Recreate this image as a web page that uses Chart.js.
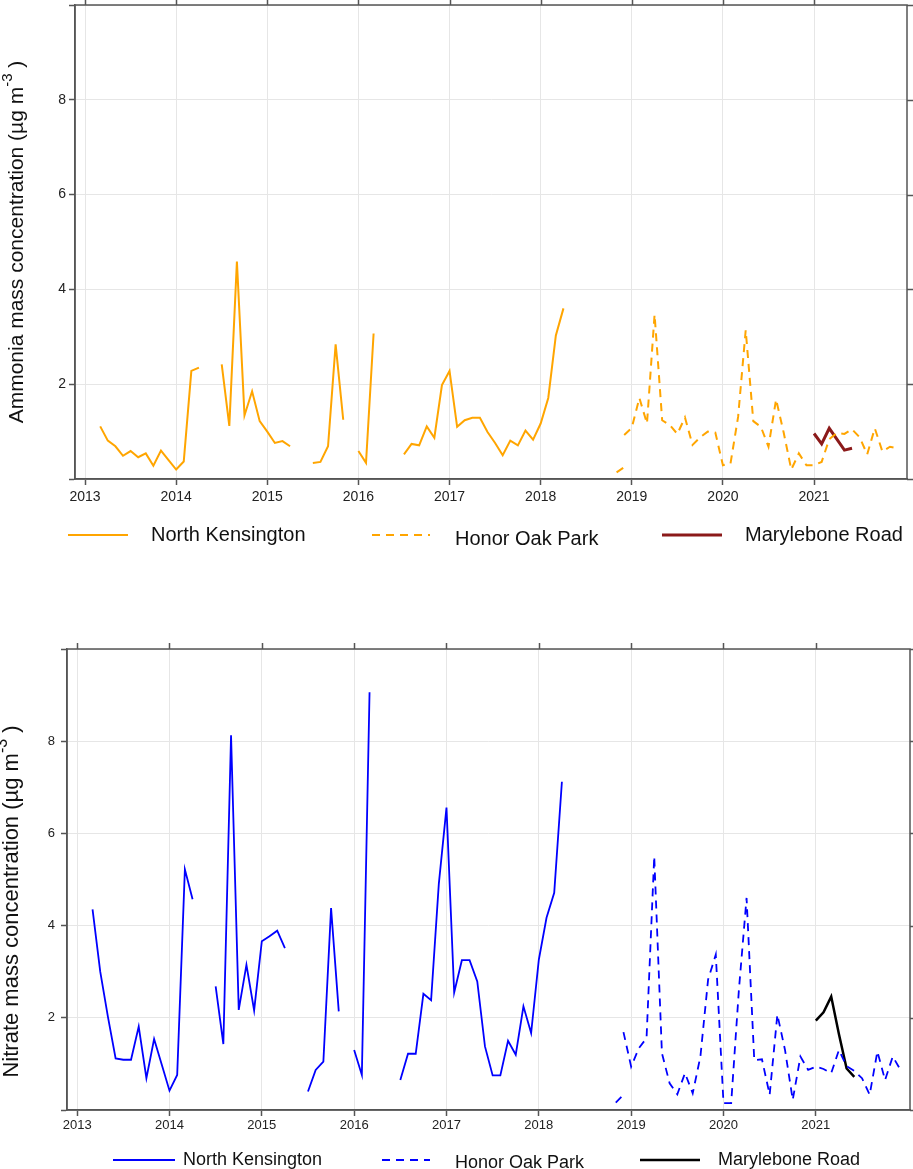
<!DOCTYPE html>
<html>
<head>
<meta charset="utf-8">
<script src="https://cdn.jsdelivr.net/npm/chart.js@4.4.0/dist/chart.umd.min.js"></script>
<style>
  html, body { margin: 0; padding: 0; background: #ffffff; }
  #wrap { position: relative; width: 913px; height: 1169px; overflow: hidden; }
  canvas { position: absolute; left: 0; }
  #ammonia { top: 0; }
  #nitrate { top: 590px; }
</style>
</head>
<body>
<div id="wrap">
  <canvas id="ammonia" width="913" height="590"></canvas>
  <canvas id="nitrate" width="913" height="579"></canvas>
</div>
<script>
// ---- monthly mean concentrations (µg m-3) ----
function monthRange(a, b) {
  const out = [];
  let [y, m] = a.split('-').map(Number);
  const [by, bm] = b.split('-').map(Number);
  while (y < by || (y === by && m <= bm)) {
    out.push(y + '-' + String(m).padStart(2, '0'));
    m++; if (m > 12) { m = 1; y++; }
  }
  return out;
}

const siteNames = ['North Kensington', 'Honor Oak Park', 'Marylebone Road'];
const yearTicks = [2013, 2014, 2015, 2016, 2017, 2018, 2019, 2020, 2021];
const yTickValues = [0, 2, 4, 6, 8, 10];
const yTickLabels = ['', '2', '4', '6', '8', ''];

// North Kensington: Mar 2013 – Apr 2018 (null = no data that month)
const nkMonths = monthRange('2013-03', '2018-04');
const nkAmmonia = [
  1.11, 0.81, 0.69, 0.49, 0.59, 0.46, 0.54, 0.28, 0.60, 0.40,
  0.20, 0.37, 2.28, 2.35, null, null, 2.42, 1.12, 4.59, 1.34, 1.85, 1.22,
  1.00, 0.76, 0.80, 0.69, null, null, 0.34, 0.36, 0.69, 2.84, 1.25, null,
  0.59, 0.34, 3.07, null, null, null, 0.52, 0.74, 0.71, 1.11, 0.87, 1.98,
  2.28, 1.10, 1.24, 1.29, 1.29, 0.99, 0.76, 0.50, 0.81, 0.71, 1.02, 0.83,
  1.17, 1.71, 3.03, 3.60
];
const nkNitrate = [
  4.35, 3.00, 2.02, 1.12, 1.09, 1.09, 1.81, 0.69, 1.54, 0.98,
  0.42, 0.76, 5.22, 4.57, null, null, 2.68, 1.43, 8.13, 2.17, 3.15, 2.16,
  3.66, 3.77, 3.89, 3.51, null, null, 0.40, 0.87, 1.05, 4.38, 2.14, null,
  1.30, 0.76, 9.06, null, null, null, 0.65, 1.22, 1.22, 2.52, 2.38, 4.90,
  6.56, 2.55, 3.25, 3.25, 2.79, 1.38, 0.75, 0.75, 1.50, 1.20, 2.25, 1.67,
  3.26, 4.17, 4.71, 7.12
];

// Honor Oak Park: Nov 2018 – Dec 2021 (two December 2018 records, not joined)
const hopMonths = ['2018-11', '2018-12', '2018-12', '2018-12'].concat(monthRange('2019-01', '2021-12'));
const hopAmmonia = [
  0.14, 0.25, null, 0.93,
  1.08, 1.71, 1.17, 3.47, 1.24, 1.14, 0.95, 1.30, 0.72, 0.88, 1.00, 0.98,
  0.29, 0.33, 1.31, 3.14, 1.22, 1.10, 0.68, 1.68, 0.98, 0.20, 0.54, 0.29,
  0.29, 0.36, 0.84, 0.97, 0.95, 1.05, 0.88, 0.52, 1.07, 0.58, 0.68, 0.65
];
const hopNitrate = [
  0.16, 0.33, null, 1.69,
  0.94, 1.34, 1.56, 5.50, 1.23, 0.58, 0.34, 0.80, 0.36, 1.16, 2.83, 3.37,
  0.15, 0.15, 2.60, 4.60, 1.08, 1.10, 0.33, 2.07, 1.30, 0.22, 1.16, 0.87,
  0.94, 0.89, 0.80, 1.30, 0.95, 0.85, 0.69, 0.33, 1.27, 0.65, 1.16, 0.87
];

// Marylebone Road: Jan – Jun 2021
const mrMonths = monthRange('2021-01', '2021-06');
const mrAmmonia = [0.96, 0.74, 1.07, 0.84, 0.61, 0.65];
const mrNitrate = [1.94, 2.12, 2.46, 1.65, 0.90, 0.72];

// ---- helpers ----
const FONT = '"Liberation Sans", Arial, Helvetica, sans-serif';
function decYear(s) { const [y, m] = s.split('-').map(Number); return y + (m - 1) / 12; }
function series(months, vals) { return months.map((m, i) => ({ x: decYear(m), y: vals[i] })); }

// full box, plus outward ticks on the top and right edges
const framePlugin = {
  id: 'frame',
  afterDatasetsDraw(chart) {
    const { ctx, chartArea: a, scales: { x, y } } = chart;
    ctx.save();
    ctx.strokeStyle = '#555555';
    ctx.lineWidth = 1.5;
    ctx.strokeRect(a.left, a.top, a.right - a.left, a.bottom - a.top);
    ctx.beginPath();
    x.ticks.forEach(t => {
      const px = Math.round(x.getPixelForValue(t.value)) + 0.5;
      ctx.moveTo(px, a.top); ctx.lineTo(px, a.top - 6);
    });
    y.ticks.forEach(t => {
      const py = Math.round(y.getPixelForValue(t.value)) + 0.5;
      ctx.moveTo(a.right, py); ctx.lineTo(a.right + 6, py);
    });
    ctx.stroke();
    ctx.restore();
  }
};

// rotated axis title with a raised "-3" exponent
const unitTitlePlugin = {
  id: 'unitTitle',
  afterDraw(chart, args, o) {
    const { ctx, chartArea: a } = chart;
    const cy = (a.top + a.bottom) / 2 + (o.shift || 0);
    const big = o.size + 'px ' + FONT, small = Math.round(o.size * 0.72) + 'px ' + FONT;
    ctx.save();
    ctx.font = big; const w1 = ctx.measureText(o.main).width; const w3 = ctx.measureText(o.tail).width;
    ctx.font = small; const w2 = ctx.measureText(o.sup).width;
    const total = w1 + w2 + w3;
    ctx.translate(o.x, cy);
    ctx.rotate(-Math.PI / 2);
    ctx.fillStyle = '#111111';
    ctx.textBaseline = 'middle';
    ctx.textAlign = 'left';
    let px = -total / 2;
    ctx.font = big; ctx.fillText(o.main, px, 0); px += w1;
    ctx.font = small; ctx.fillText(o.sup, px, -o.size * 0.45); px += w2;
    ctx.font = big; ctx.fillText(o.tail, px, 0);
    ctx.restore();
  }
};

// key below the plot: one sample line + name per site
const siteKeyPlugin = {
  id: 'siteKey',
  afterDraw(chart, args, o) {
    const ctx = chart.ctx;
    ctx.save();
    chart.data.datasets.forEach((ds, i) => {
      const it = o.items[i];
      ctx.beginPath();
      ctx.strokeStyle = ds.borderColor;
      ctx.lineWidth = ds.borderWidth;
      ctx.setLineDash(ds.borderDash || []);
      ctx.moveTo(it.x1, o.y); ctx.lineTo(it.x2, o.y);
      ctx.stroke();
      ctx.setLineDash([]);
      ctx.fillStyle = '#111111';
      ctx.font = o.size + 'px ' + FONT;
      ctx.textBaseline = 'middle';
      ctx.fillText(ds.label, it.tx, o.y + (it.dy || 0));
    });
    ctx.restore();
  }
};

function buildChart(canvasId, cfg) {
  const H = document.getElementById(canvasId).height;
  return new Chart(document.getElementById(canvasId), {
    type: 'line',
    data: {
      datasets: [
        { label: siteNames[0], data: series(nkMonths, cfg.nk), borderColor: cfg.color, borderWidth: cfg.lw, spanGaps: false },
        { label: siteNames[1], data: series(hopMonths, cfg.hop), borderColor: cfg.color, borderWidth: cfg.lw, borderDash: [8, 6], spanGaps: false },
        { label: siteNames[2], data: series(mrMonths, cfg.mr), borderColor: cfg.mrColor, borderWidth: cfg.mrLw, spanGaps: false }
      ]
    },
    options: {
      responsive: false,
      animation: false,
      elements: { point: { radius: 0, hoverRadius: 0 }, line: { tension: 0, borderCapStyle: 'butt', borderJoinStyle: 'miter' } },
      layout: { padding: { top: cfg.top, right: cfg.right, left: 0, bottom: 0 } },
      scales: {
        x: {
          type: 'linear', position: 'bottom', min: 2012.89, max: 2022.02,
          afterBuildTicks: s => { s.ticks = yearTicks.map(v => ({ value: v })); },
          afterFit: s => { s.height = H - cfg.bottom; s.paddingLeft = 0; s.paddingRight = 0; },
          ticks: { autoSkip: false, maxRotation: 0, padding: cfg.xPad, color: '#222222',
                   font: { family: FONT, size: cfg.tick }, callback: v => String(v) },
          grid: { color: '#e6e6e6', lineWidth: 1, drawTicks: true, tickLength: 6, tickColor: '#555555', tickWidth: 1.5 },
          border: { display: true, color: '#555555', width: 1.5 }
        },
        y: {
          type: 'linear', position: 'left', min: 0, max: 10,
          afterBuildTicks: s => { s.ticks = yTickValues.map(v => ({ value: v })); },
          afterFit: s => { s.width = cfg.left; s.paddingTop = 0; s.paddingBottom = 0; },
          ticks: { padding: cfg.yPad, color: '#222222', font: { family: FONT, size: cfg.tick },
                   callback: v => yTickLabels[yTickValues.indexOf(v)] },
          grid: { color: '#e6e6e6', lineWidth: 1, drawTicks: true, tickLength: 6, tickColor: '#555555', tickWidth: 1.5 },
          border: { display: true, color: '#555555', width: 1.5 }
        }
      },
      plugins: {
        legend: { display: false },
        tooltip: { enabled: false },
        unitTitle: { x: cfg.titleX, size: cfg.titleSize, shift: cfg.titleShift,
                     main: cfg.title + ' mass concentration (\u00b5g m', sup: '-3', tail: ' )' },
        siteKey: { y: cfg.keyY, size: cfg.keySize, items: cfg.keyItems }
      }
    },
    plugins: [framePlugin, unitTitlePlugin, siteKeyPlugin]
  });
}

buildChart('ammonia', {
  nk: nkAmmonia, hop: hopAmmonia, mr: mrAmmonia,
  color: '#FFA500', lw: 2, mrColor: '#8B1A1A', mrLw: 3,
  top: 5, right: 6, left: 75, bottom: 479,
  tick: 14, xPad: 4, yPad: 3,
  title: 'Ammonia', titleX: 17, titleSize: 21, titleShift: 0,
  keyY: 535, keySize: 20,
  keyItems: [{ x1: 68, x2: 128, tx: 151 }, { x1: 372, x2: 430, tx: 455, dy: 4 }, { x1: 662, x2: 722, tx: 745 }]
});

buildChart('nitrate', {
  nk: nkNitrate, hop: hopNitrate, mr: mrNitrate,
  color: '#0000FF', lw: 1.8, mrColor: '#000000', mrLw: 2.5,
  top: 59, right: 3, left: 67, bottom: 520,
  tick: 13, xPad: 2, yPad: 6,
  title: 'Nitrate', titleX: 12, titleSize: 22, titleShift: 22,
  keyY: 570, keySize: 18,
  keyItems: [{ x1: 113, x2: 175, tx: 183 }, { x1: 382, x2: 430, tx: 455, dy: 3 }, { x1: 640, x2: 700, tx: 718 }]
});
</script>
</body>
</html>
